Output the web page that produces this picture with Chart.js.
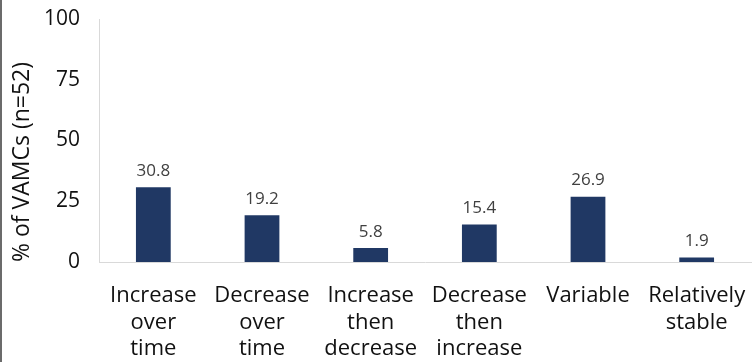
<!DOCTYPE html>
<html><head><meta charset="utf-8">
<script src="https://cdn.jsdelivr.net/npm/chart.js@4.4.0/dist/chart.umd.min.js"></script>
<style>
html,body{margin:0;padding:0;background:#fff;}
#wrap{position:relative;width:754px;height:362px;box-sizing:border-box;border-left:2px solid #6b6b6b;}
</style></head>
<body><div id="wrap"><canvas id="c" width="752" height="362"></canvas></div>
<script>
const categories = [["Increase","over","time"],["Decrease","over","time"],["Increase","then","decrease"],["Decrease","then","increase"],["Variable"],["Relatively","stable"]];
const values = [30.8, 19.2, 5.8, 15.4, 26.9, 1.9];
const yTicks = [0, 25, 50, 75, 100];
const yTitle = "% of VAMCs (n=52)";

const labelPlugin = {
  id: 'vals',
  afterDatasetsDraw(chart) {
    const ctx = chart.ctx;
    const meta = chart.getDatasetMeta(0);
    ctx.save();
    ctx.font = '17px "Open Sans"';
    ctx.fillStyle = '#404040';
    ctx.textAlign = 'center';
    ctx.textBaseline = 'middle';
    meta.data.forEach((bar, i) => {
      ctx.fillText(values[i].toFixed(1), bar.x, bar.y - 16);
    });
    ctx.restore();
  }
};

new Chart(document.getElementById('c'), {
  type: 'bar',
  data: { labels: categories, datasets: [{ data: values, backgroundColor: '#203864', categoryPercentage: 1, barPercentage: 0.32 }] },
  options: {
    responsive: false, animation: false,
    layout: { padding: { left: 0, right: 3, top: 19, bottom: 0 } },
    plugins: { legend: { display: false }, tooltip: { enabled: false } },
    scales: {
      x: {
        afterFit: (s) => { s.height = 100; s.paddingLeft = 0; s.paddingRight = 0; },
        grid: { display: false, drawTicks: false },
        border: { color: '#d9d9d9', width: 1 },
        ticks: { color: '#111', font: { family: 'Open Sans', size: 22, lineHeight: 1.22 }, padding: 20, maxRotation: 0, autoSkip: false }
      },
      y: {
        min: 0, max: 100,
        afterFit: (s) => { s.width = 97; s.paddingTop = 0; s.paddingBottom = 0; },
        afterBuildTicks: (s) => { s.ticks = yTicks.map(v => ({ value: v })); },
        grid: { display: false, drawTicks: false },
        border: { color: '#d9d9d9', width: 1 },
        ticks: { color: '#111', font: { family: 'Open Sans', size: 21 }, padding: 19 },
        title: { display: true, text: yTitle, align: 'start', color: '#111', font: { family: 'Open Sans', size: 23 }, padding: { top: 7, bottom: 0 } }
      }
    }
  },
  plugins: [labelPlugin]
});
</script></body></html>
